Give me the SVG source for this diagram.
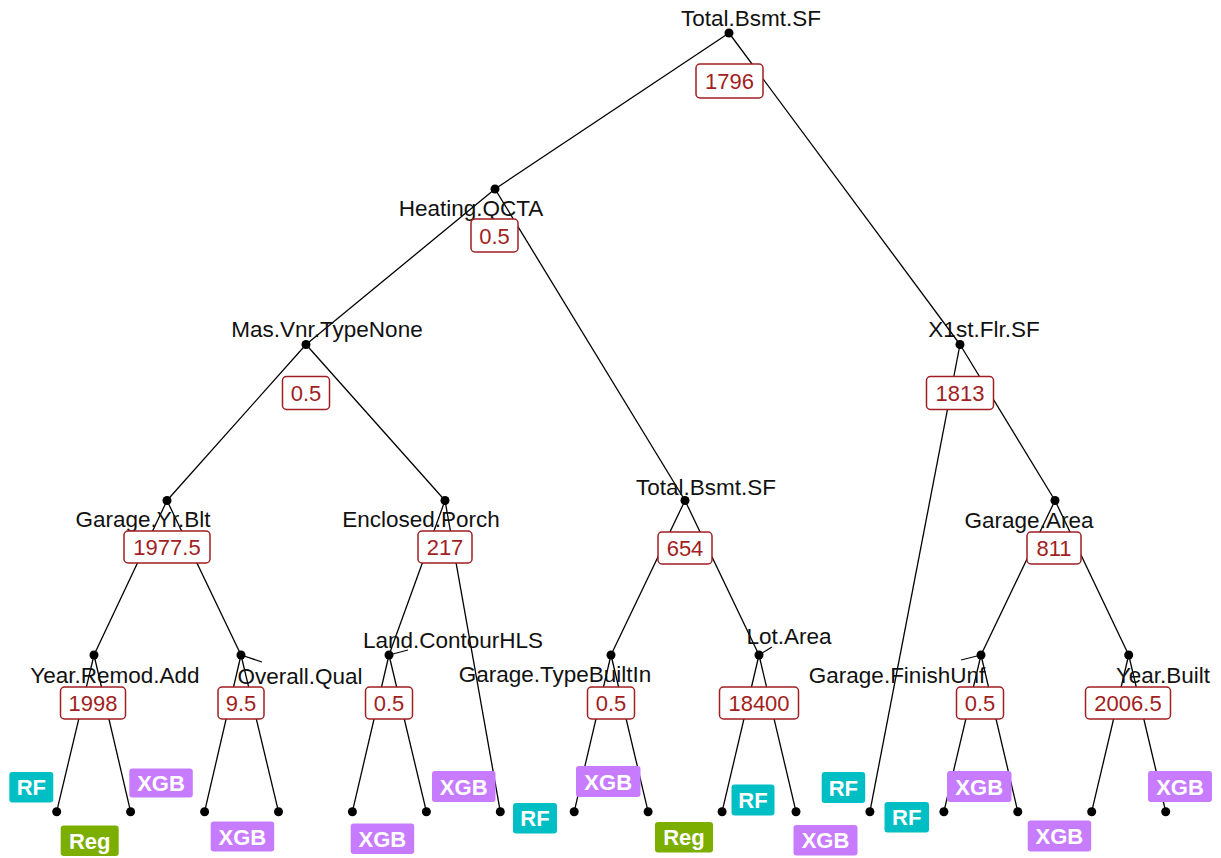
<svg xmlns="http://www.w3.org/2000/svg" width="1221" height="858" viewBox="0 0 1221 858">
  <style>
    .edge { stroke: #000; stroke-width: 1.3; fill: none; }
    .seg { stroke: #000; stroke-width: 1.2; fill: none; }
    .dot { fill: #000; }
    .var { font-family: "Liberation Sans", Arial, sans-serif; font-size: 22.5px; fill: #111; text-anchor: middle; }
    .split rect { fill: #fff; stroke: #A11E22; stroke-width: 1.5; }
    .split text { font-family: "Liberation Sans", Arial, sans-serif; font-size: 22px; fill: #A11E22; text-anchor: middle; }
    .leaf text { font-family: "Liberation Sans", Arial, sans-serif; font-size: 22px; font-weight: bold; fill: #fff; text-anchor: middle; }
    .rf rect { fill: #00BFC4; }
    .reg rect { fill: #7CAE00; }
    .xgb rect { fill: #C77CFF; }
  </style>

  <!-- tree edges and label leader segments -->
  <g id="connectors">
    <line class="edge" x1="729" y1="33" x2="495" y2="189"/>
    <line class="edge" x1="729" y1="33" x2="960" y2="344.5"/>
    <line class="edge" x1="495" y1="189" x2="306" y2="344.5"/>
    <line class="edge" x1="495" y1="189" x2="685" y2="500.5"/>
    <line class="edge" x1="306" y1="344.5" x2="167" y2="500.5"/>
    <line class="edge" x1="306" y1="344.5" x2="445" y2="500.5"/>
    <line class="edge" x1="167" y1="500.5" x2="94" y2="655"/>
    <line class="edge" x1="167" y1="500.5" x2="241" y2="655"/>
    <line class="edge" x1="94" y1="655" x2="56.7" y2="811.7"/>
    <line class="edge" x1="94" y1="655" x2="130.6" y2="811.7"/>
    <line class="edge" x1="241" y1="655" x2="204.6" y2="811.7"/>
    <line class="edge" x1="241" y1="655" x2="278.5" y2="811.7"/>
    <line class="edge" x1="445" y1="500.5" x2="389" y2="655"/>
    <line class="edge" x1="445" y1="500.5" x2="500.3" y2="811.7"/>
    <line class="edge" x1="389" y1="655" x2="352.4" y2="811.7"/>
    <line class="edge" x1="389" y1="655" x2="426.4" y2="811.7"/>
    <line class="edge" x1="685" y1="500.5" x2="611" y2="655"/>
    <line class="edge" x1="685" y1="500.5" x2="759" y2="655"/>
    <line class="edge" x1="611" y1="655" x2="574.2" y2="811.7"/>
    <line class="edge" x1="611" y1="655" x2="648.1" y2="811.7"/>
    <line class="edge" x1="759" y1="655" x2="722.1" y2="811.7"/>
    <line class="edge" x1="759" y1="655" x2="796" y2="811.7"/>
    <line class="edge" x1="960" y1="344.5" x2="869.9" y2="811.7"/>
    <line class="edge" x1="960" y1="344.5" x2="1055" y2="500.5"/>
    <line class="edge" x1="1055" y1="500.5" x2="981" y2="655"/>
    <line class="edge" x1="1055" y1="500.5" x2="1128.7" y2="655"/>
    <line class="edge" x1="981" y1="655" x2="943.9" y2="811.7"/>
    <line class="edge" x1="981" y1="655" x2="1017.8" y2="811.7"/>
    <line class="edge" x1="1128.7" y1="655" x2="1091.7" y2="811.7"/>
    <line class="edge" x1="1128.7" y1="655" x2="1165.7" y2="811.7"/>
    <!-- leader lines from nodes to displaced names -->
    <line class="seg" x1="241" y1="655" x2="262" y2="662"/>
    <line class="seg" x1="389" y1="655" x2="408" y2="650"/>
    <line class="seg" x1="759" y1="655" x2="772" y2="647"/>
    <line class="seg" x1="981" y1="655" x2="961" y2="660"/>
  </g>

  <!-- leaf points -->
  <g id="leaf-points">
    <circle class="dot" cx="56.7" cy="811.7" r="4.5"/>
    <circle class="dot" cx="130.6" cy="811.7" r="4.5"/>
    <circle class="dot" cx="204.6" cy="811.7" r="4.5"/>
    <circle class="dot" cx="278.5" cy="811.7" r="4.5"/>
    <circle class="dot" cx="352.4" cy="811.7" r="4.5"/>
    <circle class="dot" cx="426.4" cy="811.7" r="4.5"/>
    <circle class="dot" cx="500.3" cy="811.7" r="4.5"/>
    <circle class="dot" cx="574.2" cy="811.7" r="4.5"/>
    <circle class="dot" cx="648.1" cy="811.7" r="4.5"/>
    <circle class="dot" cx="722.1" cy="811.7" r="4.5"/>
    <circle class="dot" cx="796" cy="811.7" r="4.5"/>
    <circle class="dot" cx="869.9" cy="811.7" r="4.5"/>
    <circle class="dot" cx="943.9" cy="811.7" r="4.5"/>
    <circle class="dot" cx="1017.8" cy="811.7" r="4.5"/>
    <circle class="dot" cx="1091.7" cy="811.7" r="4.5"/>
    <circle class="dot" cx="1165.7" cy="811.7" r="4.5"/>
  </g>

  <!-- split nodes -->
  <g id="node-total-bsmt-sf-root">
    <circle class="dot" cx="729" cy="33" r="4.5"/>
    <text class="var" x="751" y="26">Total.Bsmt.SF</text>
    <g class="split"><rect x="696" y="64" width="67" height="34" rx="4"/><text x="729.5" y="89">1796</text></g>
  </g>
  <g id="node-heating-qcta">
    <circle class="dot" cx="495" cy="189" r="4.5"/>
    <text class="var" x="471" y="216">Heating.QCTA</text>
    <g class="split"><rect x="471" y="219" width="47" height="33" rx="4"/><text x="494.5" y="243.5">0.5</text></g>
  </g>
  <g id="node-mas-vnr-typenone">
    <circle class="dot" cx="306" cy="344.5" r="4.5"/>
    <text class="var" x="327" y="337">Mas.Vnr.TypeNone</text>
    <g class="split"><rect x="282.5" y="376.5" width="47" height="33" rx="4"/><text x="306" y="401">0.5</text></g>
  </g>
  <g id="node-x1st-flr-sf">
    <circle class="dot" cx="960" cy="344.5" r="4.5"/>
    <text class="var" x="984" y="337">X1st.Flr.SF</text>
    <g class="split"><rect x="926.5" y="376.5" width="67" height="33" rx="4"/><text x="960" y="401">1813</text></g>
  </g>
  <g id="node-garage-yr-blt">
    <circle class="dot" cx="167" cy="500.5" r="4.5"/>
    <text class="var" x="143" y="527">Garage.Yr.Blt</text>
    <g class="split"><rect x="124" y="531" width="86" height="32" rx="4"/><text x="167" y="555">1977.5</text></g>
  </g>
  <g id="node-enclosed-porch">
    <circle class="dot" cx="445" cy="500.5" r="4.5"/>
    <text class="var" x="421" y="527">Enclosed.Porch</text>
    <g class="split"><rect x="418" y="531" width="54" height="32" rx="4"/><text x="445" y="555">217</text></g>
  </g>
  <g id="node-total-bsmt-sf">
    <circle class="dot" cx="685" cy="500.5" r="4.5"/>
    <text class="var" x="706" y="495">Total.Bsmt.SF</text>
    <g class="split"><rect x="658" y="532" width="54" height="32" rx="4"/><text x="685" y="556">654</text></g>
  </g>
  <g id="node-garage-area">
    <circle class="dot" cx="1055" cy="500.5" r="4.5"/>
    <text class="var" x="1029" y="528">Garage.Area</text>
    <g class="split"><rect x="1027" y="532" width="54" height="32" rx="4"/><text x="1054" y="556">811</text></g>
  </g>
  <g id="node-year-remod-add">
    <circle class="dot" cx="94" cy="655" r="4.5"/>
    <text class="var" x="115" y="683">Year.Remod.Add</text>
    <g class="split"><rect x="60.5" y="687" width="65" height="32" rx="4"/><text x="93" y="711">1998</text></g>
  </g>
  <g id="node-overall-qual">
    <circle class="dot" cx="241" cy="655" r="4.5"/>
    <text class="var" x="300" y="684">Overall.Qual</text>
    <g class="split"><rect x="218" y="687" width="46" height="32" rx="4"/><text x="241" y="711">9.5</text></g>
  </g>
  <g id="node-land-contourhls">
    <circle class="dot" cx="389" cy="655" r="4.5"/>
    <text class="var" x="453" y="648">Land.ContourHLS</text>
    <g class="split"><rect x="365.5" y="687" width="47" height="32" rx="4"/><text x="389" y="711">0.5</text></g>
  </g>
  <g id="node-garage-typebuiltin">
    <circle class="dot" cx="611" cy="655" r="4.5"/>
    <text class="var" x="555" y="682">Garage.TypeBuiltIn</text>
    <g class="split"><rect x="587.5" y="687" width="47" height="32" rx="4"/><text x="611" y="711">0.5</text></g>
  </g>
  <g id="node-lot-area">
    <circle class="dot" cx="759" cy="655" r="4.5"/>
    <text class="var" x="789" y="644">Lot.Area</text>
    <g class="split"><rect x="719.5" y="687" width="79" height="32" rx="4"/><text x="759" y="711">18400</text></g>
  </g>
  <g id="node-garage-finishunf">
    <circle class="dot" cx="981" cy="655" r="4.5"/>
    <text class="var" x="897" y="683">Garage.FinishUnf</text>
    <g class="split"><rect x="956.5" y="687" width="47" height="32" rx="4"/><text x="980" y="711">0.5</text></g>
  </g>
  <g id="node-year-built">
    <circle class="dot" cx="1128.7" cy="655" r="4.5"/>
    <text class="var" x="1163" y="683">Year.Built</text>
    <g class="split"><rect x="1085.5" y="687" width="85" height="32" rx="4"/><text x="1128" y="711">2006.5</text></g>
  </g>

  <!-- leaf model labels -->
  <g id="leaf-1" class="leaf rf"><rect x="9.3" y="772" width="44" height="30.5" rx="3"/><text x="31.3" y="795">RF</text></g>
  <g id="leaf-2" class="leaf reg"><rect x="60.7" y="825.5" width="58" height="30.5" rx="3"/><text x="89.7" y="848.5">Reg</text></g>
  <g id="leaf-3" class="leaf xgb"><rect x="129.3" y="768.5" width="63.5" height="29" rx="3"/><text x="161" y="791">XGB</text></g>
  <g id="leaf-4" class="leaf xgb"><rect x="210.7" y="821.5" width="63.5" height="30" rx="3"/><text x="242.4" y="844.5">XGB</text></g>
  <g id="leaf-5" class="leaf xgb"><rect x="350.7" y="823.5" width="63.5" height="30.5" rx="3"/><text x="382.4" y="846.5">XGB</text></g>
  <g id="leaf-6" class="leaf xgb"><rect x="432" y="771" width="63.5" height="31" rx="3"/><text x="463.7" y="794.5">XGB</text></g>
  <g id="leaf-7" class="leaf rf"><rect x="513" y="803" width="44" height="30.5" rx="3"/><text x="535" y="826">RF</text></g>
  <g id="leaf-8" class="leaf xgb"><rect x="576" y="766" width="64.5" height="31" rx="3"/><text x="608.2" y="789.5">XGB</text></g>
  <g id="leaf-9" class="leaf reg"><rect x="655" y="822" width="58" height="30.5" rx="3"/><text x="684" y="845">Reg</text></g>
  <g id="leaf-10" class="leaf rf"><rect x="731.5" y="784.5" width="43" height="31" rx="3"/><text x="753" y="808">RF</text></g>
  <g id="leaf-11" class="leaf xgb"><rect x="793.5" y="825" width="64" height="30.5" rx="3"/><text x="825.5" y="848">XGB</text></g>
  <g id="leaf-12" class="leaf rf"><rect x="821.7" y="772" width="43.5" height="31" rx="3"/><text x="843.4" y="795.5">RF</text></g>
  <g id="leaf-13" class="leaf rf"><rect x="884.5" y="802" width="44.5" height="30.5" rx="3"/><text x="906.7" y="825">RF</text></g>
  <g id="leaf-14" class="leaf xgb"><rect x="947" y="771" width="64.5" height="31" rx="3"/><text x="979.2" y="794.5">XGB</text></g>
  <g id="leaf-15" class="leaf xgb"><rect x="1027.7" y="820.5" width="63.5" height="31" rx="3"/><text x="1059.4" y="844">XGB</text></g>
  <g id="leaf-16" class="leaf xgb"><rect x="1148" y="771" width="64" height="31" rx="3"/><text x="1180" y="794.5">XGB</text></g>
</svg>
